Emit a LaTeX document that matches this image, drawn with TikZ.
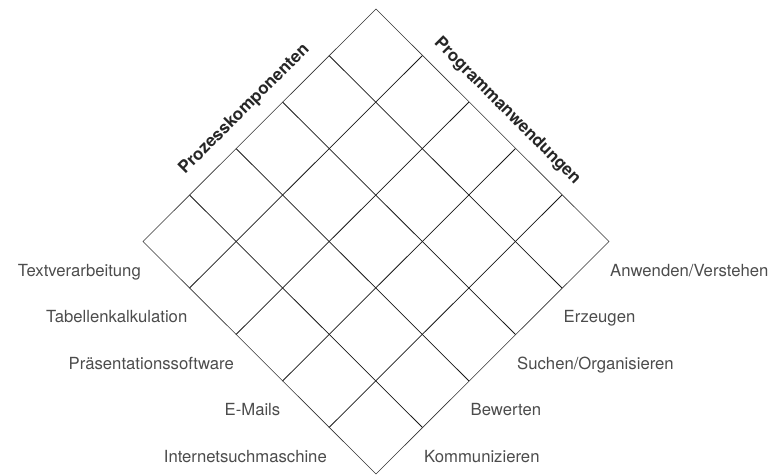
\documentclass[tikz,border=0pt]{standalone}
\usepackage{fontspec}
\setmainfont{TeX Gyre Heros}
\usetikzlibrary{calc}
\begin{document}
\begin{tikzpicture}[x=1pt,y=-1pt,
  lbl/.style={text=black!70,font=\fontsize{16.7}{19}\selectfont,inner sep=0pt},
  ttl/.style={text=black!85,font=\fontsize{17}{20}\selectfont\bfseries,inner sep=0pt},
  outer/.style={draw=black!80,line width=0.6pt},
  inner/.style={draw=black!90,line width=0.75pt}]
\useasboundingbox (0,0) rectangle (774,475);
\coordinate (L) at (143,241.5);
\coordinate (T) at (376,9);
\coordinate (R) at (609,241.5);
\coordinate (B) at (376,474);
% inner grid lines
\foreach \k in {1,...,4}{
  \draw[inner] ($(L)+(46.5*\k,-46.5*\k)$) -- ($(B)+(46.5*\k,-46.5*\k)$);
  \draw[inner] ($(L)+(46.5*\k,46.5*\k)$) -- ($(T)+(46.5*\k,46.5*\k)$);
}
% outline
\draw[outer] (L) -- (T) -- (R) -- (B) -- cycle;
% titles
\node[ttl,rotate=45,anchor=base] (pk) at (247.5,112.5) {Prozesskomponenten};
\node[ttl,rotate=-45,anchor=base] (pa) at (504,114.4) {Programmanwendungen};
% left labels
\foreach \t [count=\k from 0] in {Textverarbeitung,Tabellenkalkulation,Präsentationssoftware,E-Mails,Internetsuchmaschine}{
  \node[lbl,anchor=base east] (l\k) at (141+46.5*\k,276+46.5*\k) {\t};
}
% right labels
\foreach \t [count=\k from 0] in {Anwenden/Verstehen,Erzeugen,Suchen/Organisieren,Bewerten,Kommunizieren}{
  \node[lbl,anchor=base west] (r\k) at (610-46.5*\k,276+46.5*\k) {\t};
}
\end{tikzpicture}
\end{document}
